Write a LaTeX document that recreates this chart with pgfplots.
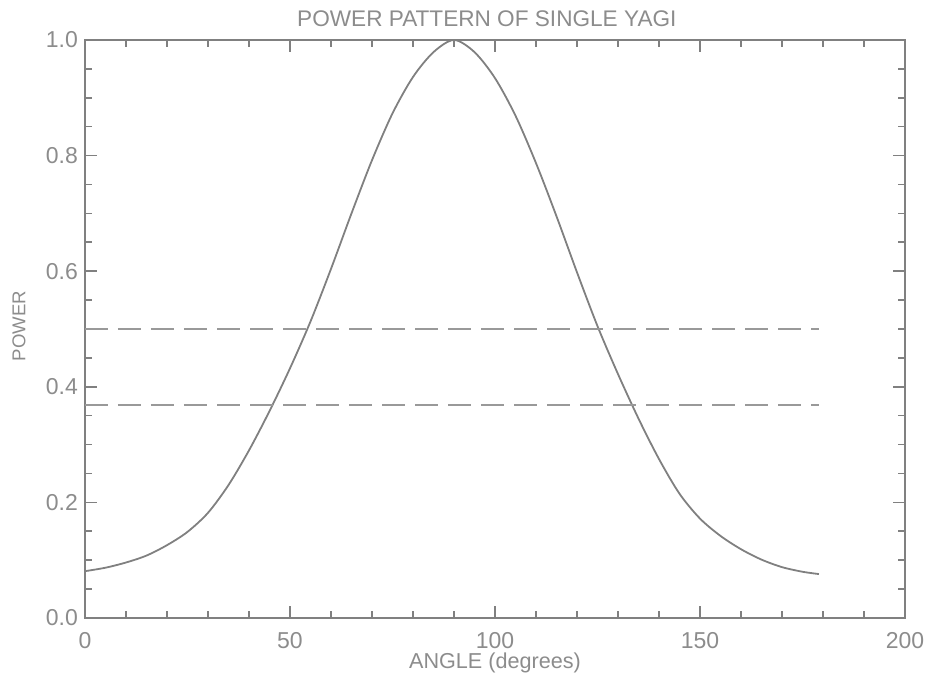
\documentclass[border=0pt]{standalone}
\usepackage{pgfplots}
\pgfplotsset{compat=1.18}
\usepackage{fontspec}
\setmainfont{Liberation Sans}
\definecolor{axgray}{gray}{0.5}
\definecolor{txtgray}{gray}{0.55}
\definecolor{dashgray}{gray}{0.6}
\begin{document}
\begin{tikzpicture}
\begin{axis}[
  name=ax,
  scale only axis,
  width=410pt, height=289pt,
  xmin=0, xmax=200, ymin=0, ymax=1,
  xtick={0,50,100,150,200},
  ytick={0,0.2,0.4,0.6,0.8,1.0},
  minor x tick num=4,
  minor y tick num=3,
  tick align=inside,
  major tick length=6pt,
  minor tick length=3.5pt,
  axis line style={axgray, line width=0.9pt},
  every tick/.style={axgray, line width=0.8pt},
  /pgf/number format/assume math mode=true,
  yticklabel style={/pgf/number format/fixed, /pgf/number format/fixed zerofill, /pgf/number format/precision=1},
  xticklabel style={/pgf/number format/fixed, /pgf/number format/precision=0, anchor=base, yshift=-15.5pt},
  ticklabel style={font=\fontsize{11.5pt}{13pt}\selectfont, text=txtgray},
  xlabel={ANGLE (degrees)},
  xlabel style={at={(axis description cs:0.5,-0.078)}, anchor=center, font=\fontsize{10.8pt}{12pt}\selectfont, text=txtgray},
  ylabel={POWER},
  ylabel style={at={(axis description cs:-0.0805,0.505)}, anchor=center, font=\fontsize{9.3pt}{11pt}\selectfont, text=txtgray},
  clip=false,
]
\addplot[axgray, line width=0.9pt, smooth] coordinates {
(0,0.081) (5,0.087) (10,0.096) (15,0.108) (20,0.126) (25,0.149) (30,0.182)
(35,0.230) (40,0.290) (45,0.358) (50,0.432) (55,0.513) (60,0.604) (65,0.700)
(70,0.792) (75,0.873) (80,0.936) (85,0.979) (90,1.0) (95,0.979) (100,0.934)
(105,0.869) (110,0.787) (115,0.695) (120,0.598) (125,0.505) (130,0.422)
(135,0.345) (140,0.275) (145,0.215) (150,0.172) (155,0.142) (160,0.119)
(165,0.101) (170,0.088) (175,0.080) (179,0.076)
};
\addplot[dashgray, line width=0.9pt, dash pattern=on 11.5pt off 5pt] coordinates {(0,0.5) (179,0.5)};
\addplot[dashgray, line width=0.9pt, dash pattern=on 11.5pt off 5pt] coordinates {(0,0.368) (179,0.368)};
\node[anchor=base, yshift=6.5pt, text=txtgray, font=\fontsize{11.3pt}{13pt}\selectfont] at (axis description cs:0.49,1) {POWER PATTERN OF SINGLE YAGI};
\end{axis}
\pgfresetboundingbox
\path ([shift={(-42.5pt,-32.5pt)}]ax.south west) rectangle ([shift={(10pt,20pt)}]ax.north east);
\end{tikzpicture}
\end{document}
